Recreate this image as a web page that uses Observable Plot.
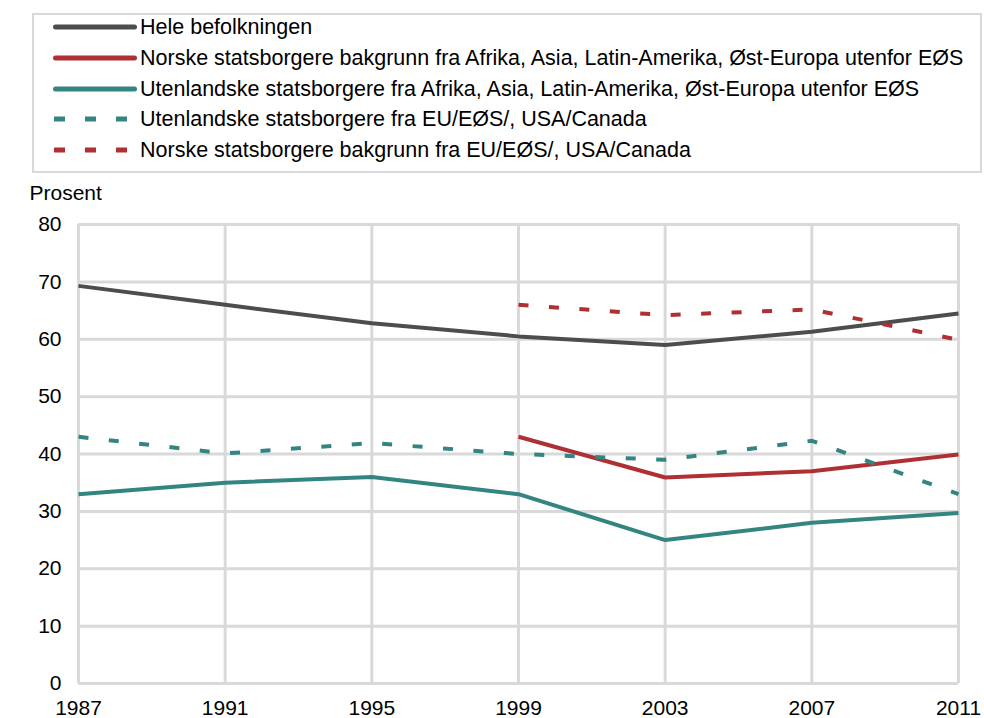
<!DOCTYPE html>
<html>
<head>
<meta charset="utf-8">
<script src="https://cdn.jsdelivr.net/npm/d3@7"></script>
<script src="https://cdn.jsdelivr.net/npm/@observablehq/plot@0.6"></script>
<style>
  html, body { margin: 0; padding: 0; background: #fff; }
  body { width: 984px; height: 718px; overflow: hidden; font-family: "Liberation Sans", Arial, sans-serif; }
  #wrap { position: relative; width: 984px; }
  #legend { position: relative; height: 180px; }
  #legend .box { position: absolute; left: 32px; top: 13px; width: 946px; height: 156px; border: 2px solid #d9d9d9; box-sizing: content-box; }
  #legend .row { position: absolute; left: 53px; height: 30px; display: flex; align-items: center; font-size: 21.5px; color: #000; white-space: nowrap; }
  #legend .row svg { width: 84px; height: 10px; margin-right: 3px; }
</style>
</head>
<body>
<div id="wrap">
  <div id="legend"><div class="box"></div></div>
  <div id="chart"></div>
</div>
<script>
// ---- Data ----
const years = [1987, 1991, 1995, 1999, 2003, 2007, 2011];
const seriesNames = [
  "Hele befolkningen",
  "Norske statsborgere bakgrunn fra Afrika, Asia, Latin-Amerika, Øst-Europa utenfor EØS",
  "Utenlandske statsborgere fra Afrika, Asia, Latin-Amerika, Øst-Europa utenfor EØS",
  "Utenlandske statsborgere fra EU/EØS/, USA/Canada",
  "Norske statsborgere bakgrunn fra EU/EØS/, USA/Canada"
];
const heleBefolkningen      = [69.3, 66.0, 62.8, 60.5, 59.0, 61.3, 64.5];
const norskeAfrikaAsia      = [null, null, null, 43.0, 35.9, 37.0, 39.9];
const utenlandskeAfrikaAsia = [33.0, 35.0, 36.0, 33.0, 25.0, 28.0, 29.7];
const utenlandskeEU         = [43.0, 40.1, 41.9, 40.0, 39.0, 42.3, 33.0];
const norskeEU              = [null, null, null, 66.0, 64.2, 65.2, 59.9];
const yTicks = [0, 10, 20, 30, 40, 50, 60, 70, 80];
const yLabel = "Prosent";

// ---- Styles ----
const colors = ["#4d4d4d", "#ae3033", "#338582", "#338582", "#ae3033"];
const dashed = [false, false, false, true, true];
const allValues = [heleBefolkningen, norskeAfrikaAsia, utenlandskeAfrikaAsia, utenlandskeEU, norskeEU];

// ---- Legend ----
const legend = document.getElementById("legend");
const rowCenters = [27, 58, 89, 119, 150];
seriesNames.forEach((name, i) => {
  const row = document.createElement("div");
  row.className = "row";
  row.style.top = (rowCenters[i] - 15) + "px";
  const line = dashed[i]
    ? `<line x1="1" y1="5" x2="76" y2="5" stroke="${colors[i]}" stroke-width="5" stroke-dasharray="11,20"/>`
    : `<line x1="2.5" y1="5" x2="81.5" y2="5" stroke="${colors[i]}" stroke-width="5" stroke-linecap="round"/>`;
  row.innerHTML = `<svg viewBox="0 0 84 10">${line}</svg><span>${name}</span>`;
  legend.appendChild(row);
});

// ---- Chart ----
const marks = [
  Plot.gridY(yTicks, {stroke: "#d9d9d9", strokeOpacity: 1, strokeWidth: 3}),
  Plot.gridX(years, {stroke: "#d9d9d9", strokeOpacity: 1, strokeWidth: 3}),
  Plot.axisY(yTicks, {tickSize: 0, tickPadding: 17, label: null, fontSize: 21}),
  Plot.axisX(years, {tickSize: 0, tickPadding: 17, label: null, tickFormat: "d", fontSize: 21}),
  Plot.text([yLabel], {frameAnchor: "top-left", textAnchor: "start", lineAnchor: "middle", dx: -49, dy: -31, fontSize: 21, fill: "#000"})
];
allValues.forEach((vals, i) => {
  const data = years.map((yr, j) => ({year: yr, value: vals[j]})).filter(d => d.value != null);
  marks.push(Plot.line(data, {
    x: "year", y: "value",
    stroke: colors[i], strokeWidth: 4,
    strokeDasharray: dashed[i] ? "10,20.5" : null,
    strokeLinecap: "butt", strokeLinejoin: "round"
  }));
});

const chart = Plot.plot({
  width: 984,
  height: 538,
  marginTop: 44,
  marginLeft: 78,
  marginRight: 26,
  marginBottom: 35,
  style: {fontFamily: "Liberation Sans, Arial, sans-serif", fontSize: "21px", color: "#000", background: "#fff", overflow: "visible"},
  x: {domain: [1987, 2011], type: "linear"},
  y: {domain: [0, 80]},
  marks
});
document.getElementById("chart").appendChild(chart);
</script>
</body>
</html>
